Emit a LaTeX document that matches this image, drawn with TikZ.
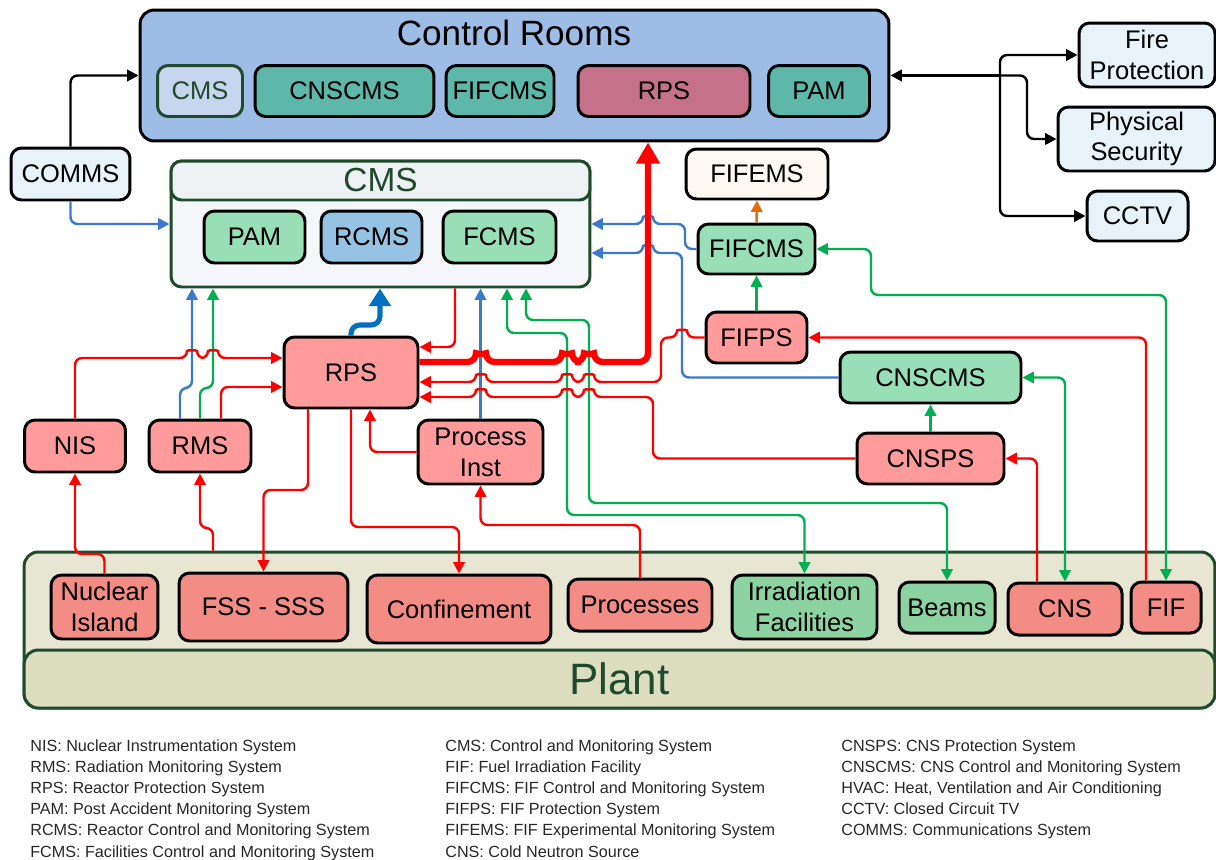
\documentclass[tikz,border=0pt]{standalone}
\usepackage{fontspec}
\setmainfont{Liberation Sans}
\usetikzlibrary{arrows.meta}

\definecolor{ctrlfill}{HTML}{9DBCE6}
\definecolor{crcmsfill}{HTML}{C7D6EF}
\definecolor{tealfill}{HTML}{5DB8A9}
\definecolor{mauvefill}{HTML}{C5718A}
\definecolor{cmsfill}{HTML}{F4F6F9}
\definecolor{cmshead}{HTML}{EEF2F4}
\definecolor{mintfill}{HTML}{98DEB7}
\definecolor{rcmsfill}{HTML}{96C3E4}
\definecolor{pinkfill}{HTML}{FF9B9B}
\definecolor{salmonfill}{HTML}{F28C84}
\definecolor{plantgreen}{HTML}{8DD3A1}
\definecolor{plantfill}{HTML}{E7E6D3}
\definecolor{bandfill}{HTML}{DDDDBF}
\definecolor{extfill}{HTML}{E7F3F8}
\definecolor{fifemsfill}{HTML}{FEF8F3}
\definecolor{darkgreen}{HTML}{1F4A2C}
\definecolor{linered}{HTML}{FF0000}
\definecolor{linegreen}{HTML}{00B050}
\definecolor{lineblue}{HTML}{3B79CB}
\definecolor{thickblue}{HTML}{0070C0}
\definecolor{lineorange}{HTML}{E46C0A}

\tikzset{
  box/.style={draw, line width=1.7pt, rounded corners=6pt, inner sep=0pt, align=center,
    font=\fontsize{14.5}{17.5}\selectfont},
  pinkbox/.style={box, fill=pinkfill},
  mintbox/.style={box, fill=mintfill},
  tealbox/.style={box, fill=tealfill},
  extbox/.style={box, fill=extfill},
  plantbox/.style={box, fill=salmonfill},
  greenbox/.style={box, fill=plantgreen},
  link/.style={line width=1.4pt, rounded corners=4pt, -{Triangle[length=6.5pt,width=6.5pt]}},
  redline/.style={link, draw=linered},
  blueline/.style={link, draw=lineblue},
  greenline/.style={link, draw=linegreen},
  blackline/.style={link, draw=black},
  both/.style={{Triangle[length=6.5pt,width=6.5pt]}-{Triangle[length=6.5pt,width=6.5pt]}},
  legend/.style={anchor=base west, align=left, inner sep=0pt, text=black!85, font=\fontsize{9.2}{12.06}\selectfont}
}

% small hops where a line crosses another one
\newcommand{\hopr}[2]{-- (#1-5,#2) .. controls (#1-5,#2-8) and (#1+5,#2-8) .. (#1+5,#2)}
\newcommand{\hopl}[2]{-- (#1+5,#2) .. controls (#1+5,#2-8) and (#1-5,#2-8) .. (#1-5,#2)}

\begin{document}
\begin{tikzpicture}[x=0.02cm, y=-0.02cm]
  \useasboundingbox (0,0) rectangle (1216,859);

  % control rooms
  \node[box, fill=ctrlfill, rounded corners=8pt, minimum width=14.98cm, minimum height=2.62cm] (ctrl) at (514.5,75.5) {};
  \node[font=\fontsize{20}{24}\selectfont] (ctrltitle) at (514,33) {Control Rooms};
  \node[box, fill=crcmsfill, draw=darkgreen, text=darkgreen, minimum width=1.7cm, minimum height=1.02cm] (crcms) at (200,91) {CMS};
  \node[tealbox, minimum width=3.58cm, minimum height=1.02cm] (crcnscms) at (344.5,91) {CNSCMS};
  \node[tealbox, minimum width=2.16cm, minimum height=1.02cm] (crfifcms) at (500,91) {FIFCMS};
  \node[box, fill=mauvefill, minimum width=3.44cm, minimum height=1.02cm] (crrps) at (664,91) {RPS};
  \node[tealbox, minimum width=2.02cm, minimum height=1.02cm] (crpam) at (819,91) {PAM};

  \node[extbox, minimum width=2.38cm, minimum height=1.04cm] (comms) at (70.5,174) {COMMS};
  \node[extbox, minimum width=2.72cm, minimum height=1.28cm] (fire) at (1147,55) {Fire\\Protection};
  \node[extbox, minimum width=3.14cm, minimum height=1.28cm] (phys) at (1136.5,139) {Physical\\Security};
  \node[extbox, minimum width=2.02cm, minimum height=1.0cm] (cctv) at (1137.5,216) {CCTV};

  % CMS
  \node[box, fill=cmsfill, draw=darkgreen, minimum width=8.38cm, minimum height=2.52cm] (cms) at (380.5,224) {};
  \node[box, fill=cmshead, draw=darkgreen, text=darkgreen, minimum width=8.38cm, minimum height=0.78cm,
    font=\fontsize{19}{22}\selectfont] (cmstitle) at (380.5,180.5) {CMS};
  \node[mintbox, minimum width=2.02cm, minimum height=1.04cm] (pam) at (254.5,237) {PAM};
  \node[box, fill=rcmsfill, minimum width=2.02cm, minimum height=1.04cm] (rcms) at (371.5,237) {RCMS};
  \node[mintbox, minimum width=2.26cm, minimum height=1.04cm] (fcms) at (499.5,237) {FCMS};

  % FIF and CNS systems
  \node[box, fill=fifemsfill, minimum width=2.84cm, minimum height=1.0cm] (fifems) at (757,174) {FIFEMS};
  \node[mintbox, minimum width=2.34cm, minimum height=1.0cm] (fifcms) at (756.5,249) {FIFCMS};
  \node[pinkbox, minimum width=2.02cm, minimum height=1.02cm] (fifps) at (756.5,337.5) {FIFPS};
  \node[mintbox, minimum width=3.62cm, minimum height=1.02cm] (cnscms) at (930.5,377.5) {CNSCMS};
  \node[pinkbox, minimum width=2.94cm, minimum height=1.02cm] (cnsps) at (930.5,458.5) {CNSPS};

  % protection
  \node[pinkbox, minimum width=2.68cm, minimum height=1.42cm] (rps) at (351,372.5) {RPS};
  \node[pinkbox, minimum width=2.02cm, minimum height=1.04cm] (nis) at (75,446) {NIS};
  \node[pinkbox, minimum width=2.04cm, minimum height=1.04cm] (rms) at (200,446) {RMS};
  \node[pinkbox, minimum width=2.5cm, minimum height=1.28cm] (procinst) at (480.5,452) {Process\\Inst};

  % plant
  \node[box, fill=plantfill, draw=darkgreen, rounded corners=8pt, minimum width=23.82cm, minimum height=3.12cm] (plant) at (619.5,630) {};
  \node[box, fill=bandfill, draw=darkgreen, text=darkgreen, rounded corners=8pt, minimum width=23.82cm, minimum height=1.16cm,
    font=\fontsize{25}{28}\selectfont] (plantband) at (619.5,679) {Plant};
  \node[plantbox, minimum width=2.14cm, minimum height=1.28cm] (nucisl) at (104.5,607) {Nuclear\\Island};
  \node[plantbox, minimum width=3.38cm, minimum height=1.36cm] (fss) at (263.5,607) {FSS - SSS};
  \node[plantbox, minimum width=3.68cm, minimum height=1.36cm] (conf) at (459,609) {Confinement};
  \node[plantbox, minimum width=2.88cm, minimum height=1.04cm] (procs) at (640,605) {Processes};
  \node[greenbox, minimum width=2.9cm, minimum height=1.28cm] (irrad) at (804.5,607) {Irradiation\\Facilities};
  \node[greenbox, minimum width=1.92cm, minimum height=1.02cm] (beams) at (947,607.5) {Beams};
  \node[plantbox, minimum width=2.28cm, minimum height=1.04cm] (cns) at (1065,609) {CNS};
  \node[plantbox, minimum width=1.4cm, minimum height=1.02cm] (fif) at (1166,607.5) {FIF};

  % black links
  \coordinate (hub) at (1000,75.5);
  \draw[blackline] (comms.north) |- (ctrl.west);
  \draw[blackline] (hub) -- (ctrl.east);
  \draw[blackline] (hub) |- (fire.west);
  \draw[blackline] (hub) -- (1027,75.5) |- (phys.west);
  \draw[blackline] (hub) |- (cctv.west);

  % blue links
  \draw[blueline] (comms.south) |- (cms.west);
  \draw[blueline] (fifcms.west) -- (685,249) -- (685,224) \hopl{648}{224} -- (cms.east |- 0,224);
  \draw[blueline] (cnscms.west) -- (682,377.5) -- (682,253) \hopl{648}{253} -- (cms.east |- 0,253);
  \draw[blueline] (procinst.north) -- (procinst.north |- cms.south);
  \draw[blueline] (180,0 |- rms.north) -- (180,388) -- (192,388) -- (192,0 |- cms.south);
  \draw[draw=thickblue, line width=2.9pt, rounded corners=5pt, -{Triangle[length=10pt,width=12pt]}]
    (rps.north) -- (351,325) -- (380,325) -- (380,0 |- cms.south);

  % green links
  \draw[greenline, both] (507,0 |- cms.south) -- (507,333) -- (567,333) -- (567,515) -| (irrad.north);
  \draw[greenline, both] (526,0 |- cms.south) -- (526,320) -- (589,320) -- (589,503) -| (beams.north);
  \draw[greenline] (200,0 |- rms.north) -- (200,388) -- (213,388) -- (213,0 |- cms.south);
  \draw[greenline] (cnsps.north) -- (cnscms.south);
  \draw[greenline] (fifps.north) -- (fifcms.south);
  \draw[greenline, both] (1065,0 |- cns.north) |- (cnscms.east);
  \draw[greenline, both] (fif.north) -- (1166,295) -- (871,295) |- (fifcms.east);
  \draw[link, draw=lineorange] (fifcms.north) -- (fifems.south);

  % red links
  \draw[redline] (455,0 |- cms.south) |- (rps.east |- 0,347);
  \draw[draw=linered, line width=3.6pt, rounded corners=5pt, -{Triangle[length=12pt,width=13pt]}]
    (rps.east |- 0,362) \hopr{481}{362} \hopr{567}{362} \hopr{589}{362} -- (648,362) -- (648,0 |- ctrl.south);
  \draw[redline] (fifps.west) \hopl{682}{337.5} -- (661,337.5) -- (661,382)
    \hopl{589}{382} \hopl{567}{382} \hopl{481}{382} -- (rps.east |- 0,382);
  \draw[redline] (cnsps.west) -- (653,458.5) -- (653,397)
    \hopl{589}{397} \hopl{567}{397} \hopl{481}{397} -- (rps.east |- 0,397);
  \draw[redline] (nis.north) -- (75,358) \hopr{192}{358} \hopr{213}{358} -- (rps.west |- 0,358);
  \draw[redline] (221,0 |- rms.north) |- (rps.west |- 0,387);
  \draw[redline] (308,0 |- rps.south) -- (308,490) -| (fss.north);
  \draw[redline] (rps.south) -- (351,527) -| (conf.north);
  \draw[redline] (procinst.west) -| (370,0 |- rps.south);
  \draw[redline] (procs.north) -- (640,525) -| (procinst.south);
  \draw[redline] (nucisl.north) -- (104.5,554) -| (nis.south);
  \draw[redline] (213,0 |- plant.north) -- (213,528) -- (200,528) -- (rms.south);
  \draw[redline] (1037,0 |- cns.north) |- (cnsps.east);
  \draw[redline] (1146,0 |- fif.north) |- (fifps.east);

  % legend (anchored at the baseline of the last line)
  \node[legend] (leg1) at (30,857) {NIS: Nuclear Instrumentation System\\
    RMS: Radiation Monitoring System\\
    RPS: Reactor Protection System\\
    PAM: Post Accident Monitoring System\\
    RCMS: Reactor Control and Monitoring System\\
    FCMS: Facilities Control and Monitoring System};
  \node[legend] (leg2) at (445,857) {CMS: Control and Monitoring System\\
    FIF: Fuel Irradiation Facility\\
    FIFCMS: FIF Control and Monitoring System\\
    FIFPS: FIF Protection System\\
    FIFEMS: FIF Experimental Monitoring System\\
    CNS: Cold Neutron Source};
  \node[legend] (leg3) at (841,835.8) {CNSPS: CNS Protection System\\
    CNSCMS: CNS Control and Monitoring System\\
    HVAC: Heat, Ventilation and Air Conditioning\\
    CCTV: Closed Circuit TV\\
    COMMS: Communications System};
\end{tikzpicture}
\end{document}
